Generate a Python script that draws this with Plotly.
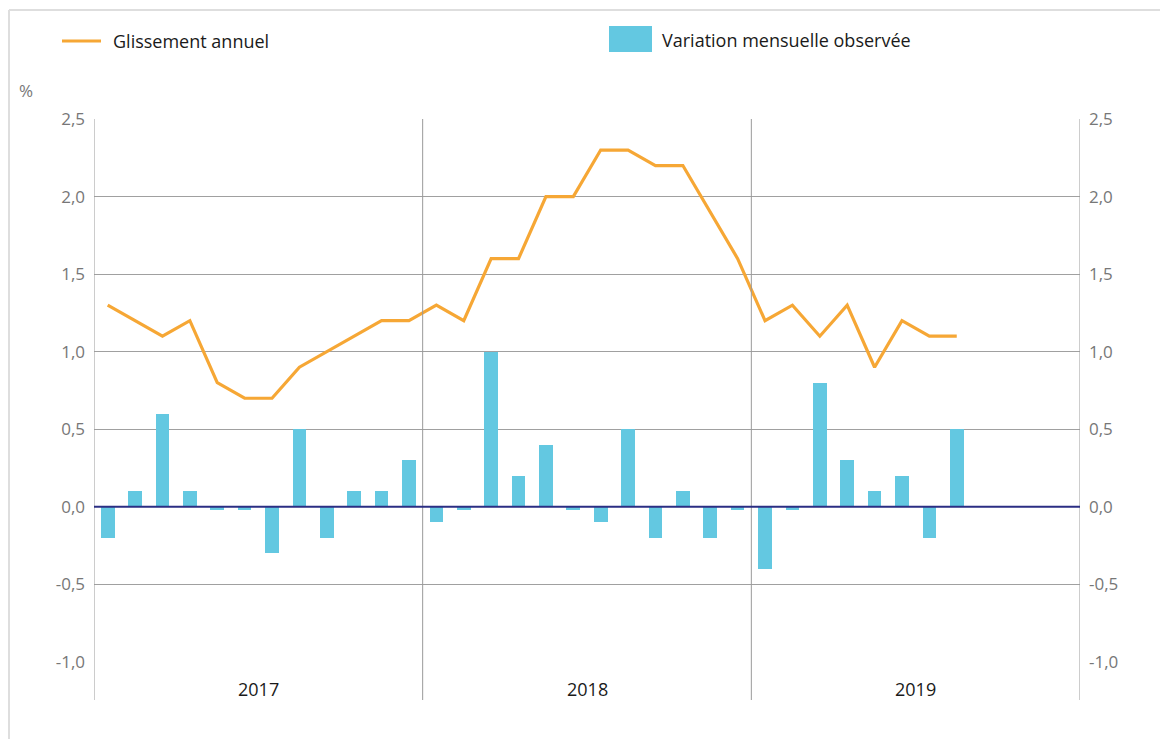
import plotly.graph_objects as go

years = ["2017", "2018", "2019"]
months_index = list(range(36))

# Monthly observed variation (%), Jan 2017 - Aug 2019
variation_mensuelle = [
    -0.2, 0.1, 0.6, 0.1, -0.02, -0.02, -0.3, 0.5, -0.2, 0.1, 0.1, 0.3,
    -0.1, -0.02, 1.0, 0.2, 0.4, -0.02, -0.1, 0.5, -0.2, 0.1, -0.2, -0.02,
    -0.4, -0.02, 0.8, 0.3, 0.1, 0.2, -0.2, 0.5,
]
# Annual change (%), Jan 2017 - Aug 2019
glissement_annuel = [
    1.3, 1.2, 1.1, 1.2, 0.8, 0.7, 0.7, 0.9, 1.0, 1.1, 1.2, 1.2,
    1.3, 1.2, 1.6, 1.6, 2.0, 2.0, 2.3, 2.3, 2.2, 2.2, 1.9, 1.6,
    1.2, 1.3, 1.1, 1.3, 0.9, 1.2, 1.1, 1.1,
]
y_ticks = [-1.0, -0.5, 0.0, 0.5, 1.0, 1.5, 2.0, 2.5]

BAR = "#63c8e1"
ORANGE = "#f6a735"
GRID = "#a0a0a0"
FONT = "Open Sans"

fig = go.Figure()
fig.add_trace(go.Bar(
    x=months_index[:len(variation_mensuelle)], y=variation_mensuelle,
    marker=dict(color=BAR, line=dict(width=0)), width=0.5,
    name="Variation mensuelle observée", showlegend=False,
))
fig.add_trace(go.Scatter(
    x=months_index[:len(glissement_annuel)], y=glissement_annuel,
    mode="lines", line=dict(color=ORANGE, width=3.2),
    name="Glissement annuel", showlegend=False,
))
# invisible trace to activate right axis
fig.add_trace(go.Scatter(x=[0], y=[0], yaxis="y2", mode="markers",
                         marker=dict(opacity=0), showlegend=False, hoverinfo="skip"))

OFF = 8  # browser body margin
W, H = 1168 - OFF, 747 - 2 * OFF
# plot area in page pixels
L, R, T, B = 94, 1080, 119, 662
def px(x):
    return (x - L) / (R - L)
def py(y):
    return (B - y) / (B - T)

shapes = []
# vertical year separators and axis lines (extend below plot)
for xv in [-0.5, 11.5, 23.5, 35.5]:
    shapes.append(dict(type="line", xref="x", yref="paper", x0=xv, x1=xv,
                       y0=py(700), y1=1, line=dict(color="#9a9a9a", width=1)))
# zero line
shapes.append(dict(type="line", xref="paper", yref="y", x0=0, x1=1, y0=0, y1=0,
                   line=dict(color="#2b2e83", width=2)))
# outer frame (left & top)
shapes.append(dict(type="line", xref="paper", yref="paper", x0=px(9), x1=px(9),
                   y0=py(760), y1=py(10), line=dict(color="#dedede", width=2)))
shapes.append(dict(type="line", xref="paper", yref="paper", x0=px(9), x1=px(1180),
                   y0=py(10), y1=py(10), line=dict(color="#dedede", width=2)))
# legend
shapes.append(dict(type="line", xref="paper", yref="paper", x0=px(62), x1=px(101),
                   y0=py(41), y1=py(41), line=dict(color=ORANGE, width=3.2)))
shapes.append(dict(type="rect", xref="paper", yref="paper", x0=px(609), x1=px(652),
                   y0=py(52), y1=py(26), line=dict(width=0), fillcolor=BAR))

annotations = [
    dict(text="Glissement annuel", xref="paper", yref="paper", x=px(111), y=py(41),
         xanchor="left", yanchor="middle", showarrow=False,
         font=dict(family=FONT, size=18, color="#1a1a1a")),
    dict(text="Variation mensuelle observée", xref="paper", yref="paper", x=px(660), y=py(40),
         xanchor="left", yanchor="middle", showarrow=False,
         font=dict(family=FONT, size=18, color="#1a1a1a")),
    dict(text="%", xref="paper", yref="paper", x=px(17), y=py(91),
         xanchor="left", yanchor="middle", showarrow=False,
         font=dict(family=FONT, size=17, color="#777")),
]
for i, yr in enumerate(years):
    annotations.append(dict(text=yr, xref="x", yref="paper", x=i * 12 + 5.5, y=py(689),
                            xanchor="center", yanchor="middle", showarrow=False,
                            font=dict(family=FONT, size=18, color="#1a1a1a")))

tick_text = [f"{v:.1f}".replace(".", ",") for v in y_ticks]

fig.update_layout(
    width=W, height=H,
    margin=dict(l=L - OFF, r=W - (R - OFF), t=T - OFF, b=H - (B - OFF), pad=0),
    paper_bgcolor="white", plot_bgcolor="white",
    font=dict(family=FONT, size=17, color="#666"),
    xaxis=dict(range=[-0.5, 35.5], showgrid=False, zeroline=False,
               showticklabels=False, ticks="", showline=False, fixedrange=True),
    yaxis=dict(range=[-1.0, 2.5], tickvals=y_ticks, ticktext=tick_text,
               showgrid=True, gridcolor=GRID, gridwidth=1, zeroline=False,
               showline=False, ticks="", ticklabelstandoff=8,
               tickfont=dict(family=FONT, size=17, color="#777")),
    yaxis2=dict(range=[-1.0, 2.5], tickvals=y_ticks, ticktext=tick_text,
                overlaying="y", side="right", showgrid=False, zeroline=False,
                showline=False, ticks="", ticklabelstandoff=8,
                tickfont=dict(family=FONT, size=17, color="#777")),
    shapes=shapes, annotations=annotations,
    bargap=0,
)

fig.write_html("out.html")
